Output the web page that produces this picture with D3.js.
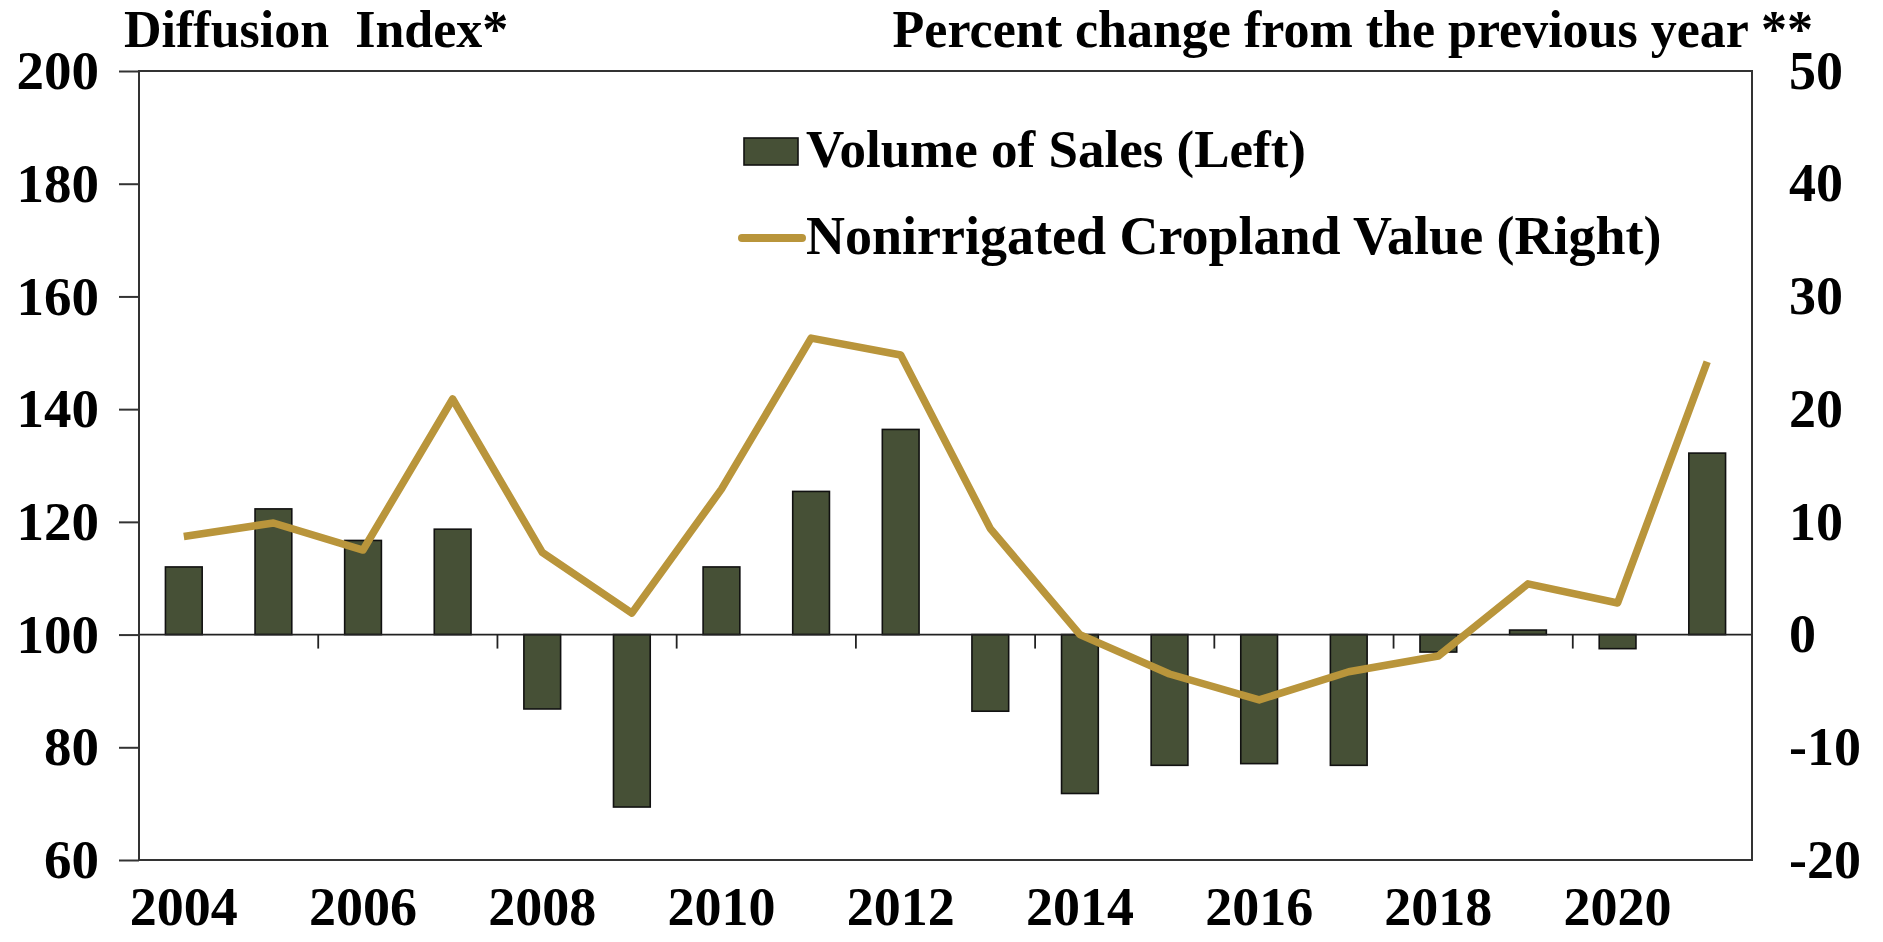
<!DOCTYPE html>
<html>
<head>
<meta charset="utf-8">
<script src="https://cdn.jsdelivr.net/npm/d3@7"></script>
<style>
  html, body { margin: 0; padding: 0; background: #fff; }
  svg { display: block; }
  text { font-family: "Liberation Serif", "Times New Roman", serif; font-weight: bold; fill: #000; }
</style>
</head>
<body>
<svg id="chart" width="1883" height="942"></svg>
<script>
// ---- data ----
const years = [2004, 2005, 2006, 2007, 2008, 2009, 2010, 2011, 2012, 2013, 2014, 2015, 2016, 2017, 2018, 2019, 2020, 2021];
const volumeOfSales = [112, 122.3, 116.7, 118.7, 86.8, 69.4, 112, 125.4, 136.4, 86.4, 71.8, 76.8, 77.1, 76.8, 96.9, 100.8, 97.5, 132.2];
const croplandValue = [8.7, 9.9, 7.5, 20.9, 7.3, 1.9, 12.9, 26.3, 24.8, 9.4, 0, -3.5, -5.8, -3.3, -1.9, 4.5, 2.8, 24.2];
const leftTicks = [60, 80, 100, 120, 140, 160, 180, 200];
const rightTicks = [-20, -10, 0, 10, 20, 30, 40, 50];
const xLabelYears = [2004, 2006, 2008, 2010, 2012, 2014, 2016, 2018, 2020];
const xTickYears = [2006, 2008, 2010, 2012, 2014, 2016, 2018, 2020];
const seriesNames = ["Volume of Sales (Left)", "Nonirrigated Cropland Value (Right)"];
const leftTitle = "Diffusion  Index*";
const rightTitle = "Percent change from the previous year **";

// ---- layout ----
const L = 139, R = 1752, T = 71, B = 860;
const barColor = "#465036";
const lineColor = "#B9953B";
const fmt = d => String(d);

const svg = d3.select("#chart");

const x = d3.scaleBand().domain(years).range([L, R]).padding(0);
const yL = d3.scaleLinear().domain([60, 200]).range([B, T]);
const yR = d3.scaleLinear().domain([-20, 50]).range([B, T]);

// bars
const bw = x.bandwidth() * 0.41;
svg.append("g").selectAll("rect")
  .data(years.map((yr, i) => ({ yr, v: volumeOfSales[i] })))
  .join("rect")
  .attr("x", d => x(d.yr) + (x.bandwidth() - bw) / 2)
  .attr("width", bw)
  .attr("y", d => yL(Math.max(d.v, 100)))
  .attr("height", d => Math.abs(yL(d.v) - yL(100)))
  .attr("fill", barColor)
  .attr("stroke", "#111")
  .attr("stroke-width", 1.6);

// baseline at 100 and its ticks
svg.append("line")
  .attr("x1", L).attr("x2", R)
  .attr("y1", yL(100)).attr("y2", yL(100))
  .attr("stroke", "#222").attr("stroke-width", 1.8);
svg.append("g").selectAll("line")
  .data(xTickYears)
  .join("line")
  .attr("x1", d => x(d)).attr("x2", d => x(d))
  .attr("y1", yL(100)).attr("y2", yL(100) + 14)
  .attr("stroke", "#222").attr("stroke-width", 1.8);

// line series
const line = d3.line()
  .x((d, i) => x(years[i]) + x.bandwidth() / 2)
  .y(d => yR(d));
svg.append("path")
  .datum(croplandValue)
  .attr("d", line)
  .attr("fill", "none")
  .attr("stroke", lineColor)
  .attr("stroke-width", 7.5)
  .attr("stroke-linejoin", "round")
  .attr("stroke-linecap", "butt");

// frame
svg.append("rect")
  .attr("x", L).attr("y", T)
  .attr("width", R - L).attr("height", B - T)
  .attr("fill", "none")
  .attr("stroke", "#333").attr("stroke-width", 2);

// left axis
const gL = svg.append("g")
  .attr("transform", `translate(${L},0)`)
  .call(d3.axisLeft(yL).tickValues(leftTicks).tickFormat(fmt).tickSize(20).tickPadding(20).tickSizeOuter(0));
gL.select(".domain").remove();
gL.selectAll(".tick line").attr("stroke", "#333").attr("stroke-width", 2);
gL.selectAll(".tick text").attr("font-size", 55).attr("fill", "#000")
  .attr("font-family", "Liberation Serif").attr("font-weight", "bold");

// right axis
const gR = svg.append("g")
  .attr("transform", `translate(${R},0)`)
  .call(d3.axisRight(yR).tickValues(rightTicks).tickFormat(fmt).tickSize(0).tickPadding(37));
gR.select(".domain").remove();
gR.selectAll(".tick text").attr("font-size", 54).attr("fill", "#000")
  .attr("font-family", "Liberation Serif").attr("font-weight", "bold");

// bottom axis labels
const gB = svg.append("g")
  .attr("transform", `translate(0,${B})`)
  .call(d3.axisBottom(x).tickValues(xLabelYears).tickFormat(fmt).tickSize(0).tickPadding(27));
gB.select(".domain").remove();
gB.selectAll(".tick text").attr("font-size", 54).attr("fill", "#000")
  .attr("font-family", "Liberation Serif").attr("font-weight", "bold");

// titles
svg.append("text")
  .attr("x", 124).attr("y", 47)
  .attr("font-size", 52)
  .style("white-space", "pre")
  .text(leftTitle);
svg.append("text")
  .attr("x", 1813).attr("y", 47)
  .attr("text-anchor", "end")
  .attr("font-size", 52)
  .text(rightTitle);

// legend
const lg = svg.append("g");
lg.append("rect")
  .attr("x", 744).attr("y", 138).attr("width", 54).attr("height", 27)
  .attr("fill", barColor).attr("stroke", "#111").attr("stroke-width", 1.6);
lg.append("text").attr("x", 806).attr("y", 167).attr("font-size", 53).text(seriesNames[0]);
lg.append("line")
  .attr("x1", 742).attr("x2", 802).attr("y1", 238).attr("y2", 238)
  .attr("stroke", lineColor).attr("stroke-width", 8).attr("stroke-linecap", "round");
lg.append("text").attr("x", 806).attr("y", 254).attr("font-size", 54).text(seriesNames[1]);
</script>
</body>
</html>
